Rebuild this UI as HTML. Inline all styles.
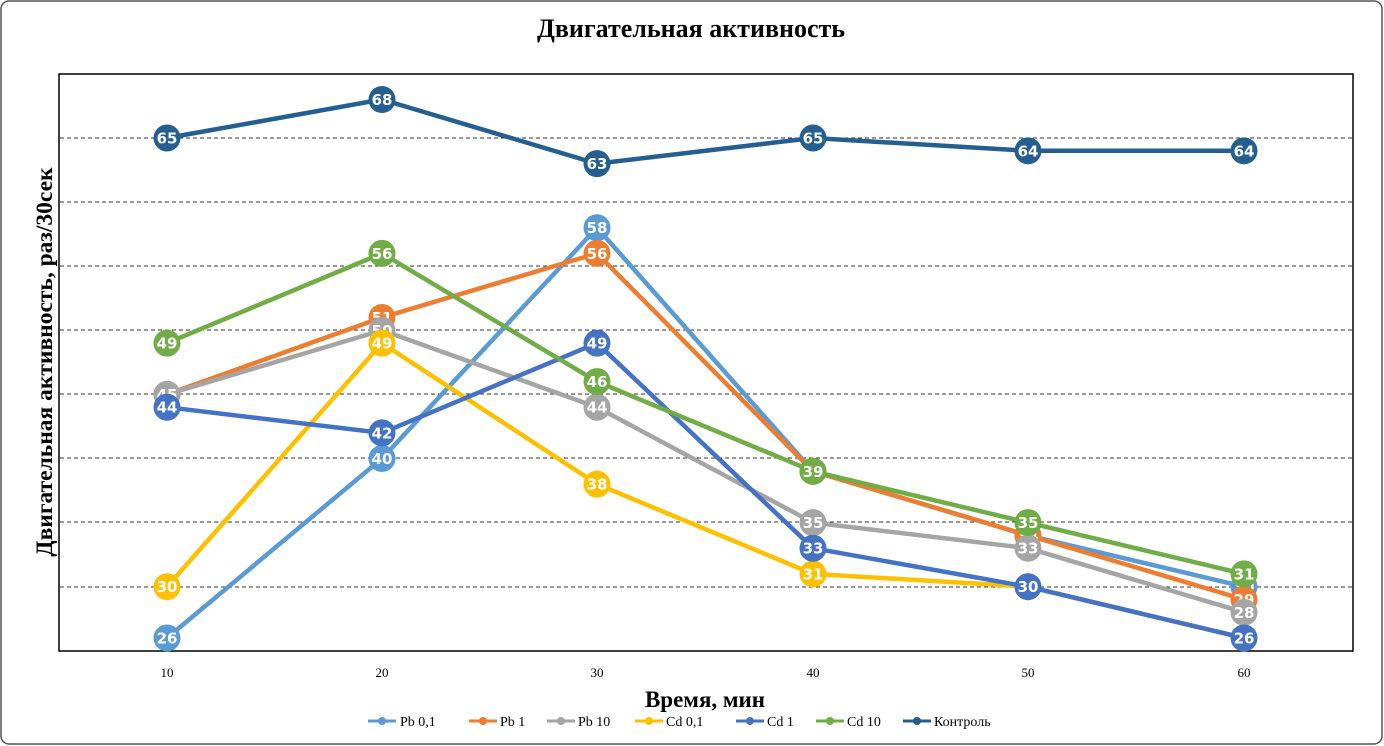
<!DOCTYPE html><html><head><meta charset="utf-8"><style>body{margin:0;background:#fff}svg{display:block}</style></head><body>
<svg width="1384" height="746" xmlns="http://www.w3.org/2000/svg" font-family="Liberation Serif, serif">
<rect x="1" y="1" width="1381" height="743" rx="8" fill="#fff" stroke="#555" stroke-width="1.5"/>
<text x="691" y="37" text-anchor="middle" font-size="26" font-weight="bold">Двигательная активность</text>
<g stroke="#333" stroke-width="1" stroke-dasharray="4,3">
<line x1="60" x2="1353" y1="138" y2="138"/><line x1="60" x2="1353" y1="202" y2="202"/><line x1="60" x2="1353" y1="266" y2="266"/><line x1="60" x2="1353" y1="330" y2="330"/><line x1="60" x2="1353" y1="394" y2="394"/><line x1="60" x2="1353" y1="458" y2="458"/><line x1="60" x2="1353" y1="522" y2="522"/><line x1="60" x2="1353" y1="587" y2="587"/>
</g>
<rect x="59" y="74" width="1294" height="577" fill="none" stroke="#000" stroke-width="1.5"/>
<g font-size="13" text-anchor="middle">
<text x="167" y="677">10</text><text x="382" y="677">20</text><text x="597" y="677">30</text><text x="813" y="677">40</text><text x="1028" y="677">50</text><text x="1244" y="677">60</text></g>
<text transform="translate(52,362) rotate(-90)" text-anchor="middle" font-size="23.5" font-weight="bold">Двигательная активность, раз/30сек</text>
<text x="705" y="707" text-anchor="middle" font-size="23" font-weight="bold">Время, мин</text>
<g id="s"></g>
<g font-size="14">
<line x1="368" x2="396" y1="721" y2="721" stroke="#5B9BD5" stroke-width="3"/><circle cx="382" cy="721" r="4" fill="#5B9BD5"/><text x="400" y="726">Pb 0,1</text>
<line x1="469" x2="497" y1="721" y2="721" stroke="#ED7D31" stroke-width="3"/><circle cx="483" cy="721" r="4" fill="#ED7D31"/><text x="500" y="726">Pb 1</text>
<line x1="547" x2="575" y1="721" y2="721" stroke="#A5A5A5" stroke-width="3"/><circle cx="561" cy="721" r="4" fill="#A5A5A5"/><text x="578" y="726">Pb 10</text>
<line x1="635" x2="663" y1="721" y2="721" stroke="#FFC000" stroke-width="3"/><circle cx="649" cy="721" r="4" fill="#FFC000"/><text x="666" y="726">Cd 0,1</text>
<line x1="736" x2="764" y1="721" y2="721" stroke="#4472C4" stroke-width="3"/><circle cx="750" cy="721" r="4" fill="#4472C4"/><text x="767" y="726">Cd 1</text>
<line x1="816" x2="844" y1="721" y2="721" stroke="#70AD47" stroke-width="3"/><circle cx="830" cy="721" r="4" fill="#70AD47"/><text x="847" y="726">Cd 10</text>
<line x1="903" x2="931" y1="721" y2="721" stroke="#255E91" stroke-width="3"/><circle cx="917" cy="721" r="4" fill="#255E91"/><text x="934" y="726">Контроль</text>
</g>
</svg>
<script>
var X=[167,382,597,813,1028,1244];function Y(v){return 138+(65-v)*12.82;}
var S=[["#5B9BD5",[26,40,58,39,34,30]],["#ED7D31",[45,51,56,39,34,29]],["#A5A5A5",[45,50,44,35,33,28]],["#FFC000",[30,49,38,31,30,26]],["#4472C4",[44,42,49,33,30,26]],["#70AD47",[49,56,46,39,35,31]],["#255E91",[65,68,63,65,64,64]]];
var g=document.getElementById('s'),h='';
S.forEach(function(s){var p=s[1].map(function(v,i){return X[i]+','+Y(v).toFixed(1)}).join(' ');
h+='<polyline points="'+p+'" fill="none" stroke="'+s[0]+'" stroke-width="4.5" stroke-linejoin="round"/>';
s[1].forEach(function(v,i){var y=Y(v);h+='<circle cx="'+X[i]+'" cy="'+y+'" r="13.5" fill="'+s[0]+'"/><text x="'+X[i]+'" y="'+(y+5.5)+'" text-anchor="middle" font-family="DejaVu Sans, sans-serif" font-size="15" font-weight="bold" fill="#fff">'+v+'</text>';});});
g.innerHTML=h;
</script>
</body></html>
